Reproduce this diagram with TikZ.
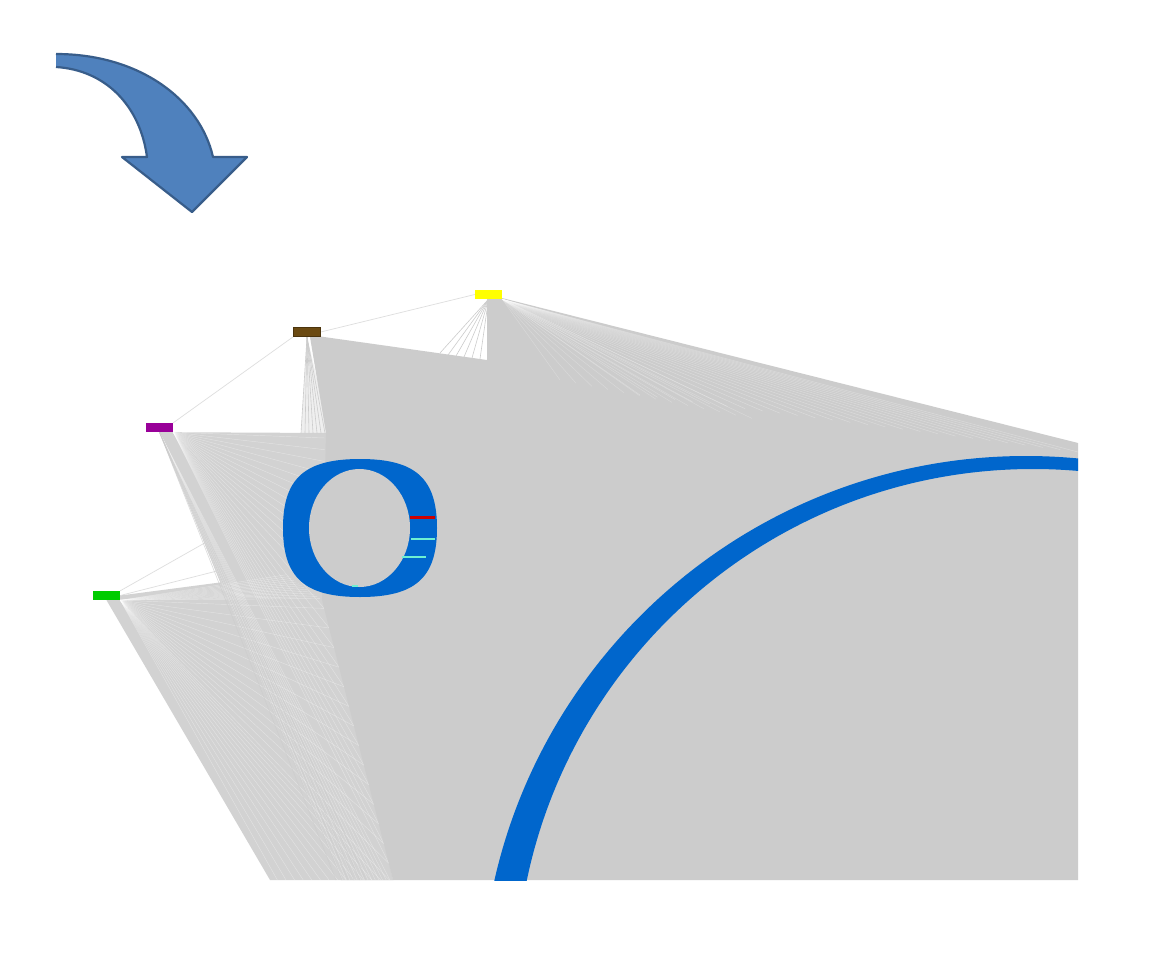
\documentclass[tikz,border=0pt]{standalone}
\usetikzlibrary{calc,backgrounds}
\definecolor{solidgray}{RGB}{204,204,204}
\definecolor{fangray}{RGB}{210,210,210}
\definecolor{edgegray}{RGB}{222,222,222}
\definecolor{ringblue}{RGB}{0,102,204}
\definecolor{arrowfill}{RGB}{79,129,189}
\definecolor{arrowline}{RGB}{56,93,138}
\definecolor{nodeyellow}{RGB}{255,255,0}
\definecolor{nodebrown}{RGB}{107,74,18}
\definecolor{nodepurple}{RGB}{153,0,153}
\definecolor{nodegreen}{RGB}{0,204,0}
\definecolor{ringred}{RGB}{204,0,0}
\definecolor{ringcyan}{RGB}{110,240,210}
\begin{document}
\begin{tikzpicture}[x=1pt,y=-1pt,
  vnode/.style={rectangle,inner sep=0pt,minimum width=27pt,minimum height=9pt,draw=none},
  linkline/.style={draw=edgegray,line width=0.7pt},
  streak/.style={draw=white,opacity=0.35,line width=0.45pt},
  fanline/.style={draw=solidgray,line width=0.6pt}]
\useasboundingbox (0,0) rectangle (1170,964);

% vertices (main layer, on top)
\node[vnode,fill=nodeyellow] (Y) at (488.5,294.5) {};
\node[vnode,fill=nodebrown,draw=nodebrown!70!black,line width=0.5pt] (B) at (307,332) {};
\node[vnode,fill=nodepurple] (P) at (159.5,427.5) {};
\node[vnode,fill=nodegreen] (G) at (106.5,595.5) {};

\begin{pgfonlayer}{background}
\fill[white] (0,0) rectangle (1170,964);

% single links
\draw[linkline] (B.east) -- (Y.west);
\draw[linkline] (P.north east) -- (B.south west);
\coordinate (g1) at (300,489);
\coordinate (g2) at (300,550);
\draw[linkline] (G.north east) -- (g1);
\draw[linkline] (G.east) -- (g2);

% fans of links
\fill[fangray] (G.east) -- (285,574) -- (322,600) -- (393,880) -- (270,880) -- (G.south) -- cycle;
\fill[fangray] (P.south east) -- (330,433) -- (330,600) -- (393,880) -- (341,880) -- (P.south) -- cycle;
\foreach \t in {0.03,0.10,...,0.98} {
  \draw[streak] (G.south east) -- ($(285,574)!\t!(322,600)$);
  \draw[streak] (G.south east) -- ($(322,600)!\t!(393,880)$);
  \draw[streak] (G.south east) -- ($(393,880)!\t!(270,880)$);
  \draw[streak] (P.south east) -- ($(325,433)!\t!(322,600)$);
  \draw[streak] (P.south east) -- ($(322,600)!\t!(393,880)$);
}
\foreach \t in {0.06,0.13,...,0.98} {
  \draw[streak] (P.south) -- ($(393,880)!\t!(341,880)$);
}
\foreach \x in {336,342,...,366} {
  \draw[fanline,opacity=0.7] (P.south) -- (\x,880);
}
% brown fan
\fill[fangray,opacity=0.35] (B.south) -- (301,433) -- (330,433) -- cycle;
\foreach \x in {301,305,309,313,317,321,325} {
  \draw[fanline] (B.south) -- (\x,433);
}
% yellow fan (left part)
\foreach \x/\y in {440/353,448/355,456/356,464/357,472/358,480/359} {
  \draw[fanline] (Y.south) -- (\x,\y);
}

% dense solid region
\fill[solidgray] (317,336) -- (487,360) -- (487,299) -- (502,298) -- (1078,443)
  -- (1078,880) -- (393,880) -- (322,600) -- (326,433) -- (310,337) -- cycle;
\foreach \t in {0.0,0.04,...,1.0} {
  \draw[streak,opacity=0.3] (Y.south east) -- ($(640,395)!\t!(1078,452)$);
}
\foreach \t in {0.0,0.08,...,1.0} {
  \draw[streak,opacity=0.25] (Y.south east) -- ($(560,380)!\t!(760,420)$);
}

% large ring
\begin{scope}
  \clip (0,0) rectangle (1078,880);
  \fill[ringblue,even odd rule] (1026,1001) circle[radius=545pt] (1033,986) circle[radius=517pt];
\end{scope}

% small ring
\fill[ringblue] (283,528) .. controls (283,478) and (305,459) .. (360,459)
  .. controls (415,459) and (437,478) .. (437,528)
  .. controls (437,578) and (415,597) .. (360,597)
  .. controls (305,597) and (283,578) .. (283,528) -- cycle;
\fill[solidgray] (359.5,528) ellipse[x radius=50.5pt,y radius=59pt];
\fill[ringred] (410,515.5) rectangle (435,518.5);
\fill[ringcyan] (411,538.2) rectangle (435,540.2);
\fill[ringcyan] (402,556) rectangle (426,558);
\fill[ringcyan] (352,585) rectangle (358,587);
\end{pgfonlayer}

% curved block arrow
\fill[arrowfill] (56,54) .. controls (140,54) and (200,100) .. (213,157) -- (247,157)
  -- (192,212) -- (122,157) -- (147,157) .. controls (140,105) and (105,70) .. (56,67) -- cycle;
\draw[arrowline,line width=2.2pt,line join=round] (56,54) .. controls (140,54) and (200,100) .. (213,157)
  -- (247,157) -- (192,212) -- (122,157) -- (147,157) .. controls (140,105) and (105,70) .. (56,67);
\end{tikzpicture}
\end{document}
